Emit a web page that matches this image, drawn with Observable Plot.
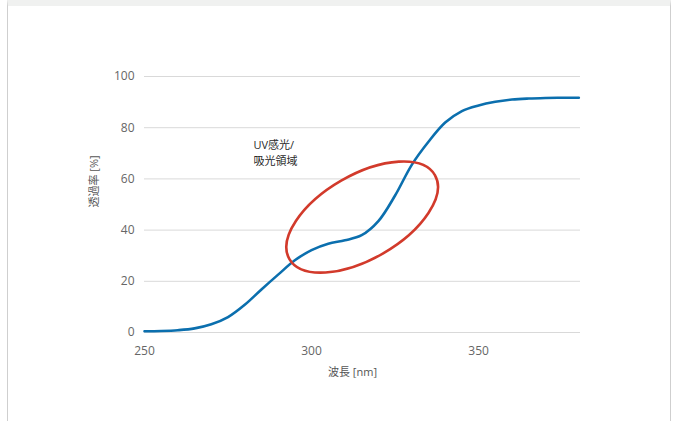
<!DOCTYPE html>
<html>
<head>
<meta charset="utf-8">
<script src="https://cdn.jsdelivr.net/npm/d3@7"></script>
<script src="https://cdn.jsdelivr.net/npm/@observablehq/plot@0.6"></script>
<style>
  html, body { margin: 0; padding: 0; background: #ffffff; }
  body { width: 677px; height: 421px; position: relative; overflow: hidden; font-family: "Open Sans", "Noto Sans CJK JP", sans-serif; }
  #card { position: absolute; left: 7px; top: 0; width: 664px; height: 421px; border-top: 6px solid #f0f1f0; border-left: 1px solid #cfcfcf; border-right: 1px solid #cfcfcf; box-sizing: border-box; }
  #chart { position: absolute; left: 0; top: 0; }
</style>
</head>
<body>
<div id="card"></div>
<div id="chart"></div>
<script>
// Data
const wavelength    = [250, 255, 260, 265, 270, 275, 280, 285, 290, 295, 300, 305, 310, 315, 320, 325, 330, 335, 340, 345, 350, 355, 360, 365, 370, 375, 380];
const transmittance = [0.5, 0.6, 0.9, 1.6, 3.2, 6.0, 10.8, 16.8, 22.6, 28.2, 32.2, 34.7, 36.0, 38.0, 43.5, 53.5, 65.5, 74.5, 82.0, 86.5, 88.7, 90.1, 91.0, 91.4, 91.6, 91.7, 91.7];
const xTicks = [250, 300, 350];
const yTicks = [0, 20, 40, 60, 80, 100];
const xLabel = "波長 [nm]";
const yLabel = "透過率 [%]";
const annotationText = ["UV感光/", "吸光領域"];
const annotationAt = [282.6, 70.7];      // data coords of annotation text
const ellipseCenter = [315.3, 44.9];     // data coords of highlighted region centre

const rows = wavelength.map((w, i) => ({w, t: transmittance[i]}));

const chart = Plot.plot({
  width: 677,
  height: 421,
  marginLeft: 144,
  marginRight: 97,
  marginTop: 76,
  marginBottom: 89,
  style: {fontFamily: '"Open Sans", "Noto Sans CJK JP", sans-serif', background: "transparent", overflow: "visible"},
  x: {domain: [250, 380.5]},
  y: {domain: [0, 100]},
  marks: [
    Plot.gridY(yTicks, {stroke: "#d9d9d9", strokeOpacity: 1, strokeWidth: 1}),
    Plot.axisY(yTicks, {tickSize: 0, tickPadding: 10, fontSize: 12, fill: "#666", label: null}),
    Plot.axisX(xTicks, {tickSize: 0, tickPadding: 14, fontSize: 12, fill: "#666", label: null}),
    Plot.text([xLabel], {frameAnchor: "bottom", dy: 43, dx: -10, fontSize: 11, fill: "#555"}),
    Plot.text([yLabel], {frameAnchor: "left", rotate: -90, dx: -50, dy: 3, fontSize: 11, fill: "#555"}),
    Plot.line(rows, {x: "w", y: "t", stroke: "#0b6fae", strokeWidth: 2.6, curve: "catmull-rom"}),
    Plot.text([annotationText.join("\n")], {x: () => annotationAt[0], y: () => annotationAt[1], textAnchor: "start", fontSize: 11, fill: "#2a2a2a", lineHeight: 1.45})
  ]
});

// Highlight ellipse positioned through the plot's own scales
const sx = chart.scale("x"), sy = chart.scale("y");
const cx = sx.apply(ellipseCenter[0]), cy = sy.apply(ellipseCenter[1]);
const ns = "http://www.w3.org/2000/svg";
const ell = document.createElementNS(ns, "ellipse");
ell.setAttribute("cx", 0);
ell.setAttribute("cy", 0);
ell.setAttribute("rx", 84);
ell.setAttribute("ry", 42);
ell.setAttribute("transform", `translate(${cx},${cy}) rotate(-30)`);
ell.setAttribute("fill", "none");
ell.setAttribute("stroke", "#d23a2b");
ell.setAttribute("stroke-width", 2.6);
chart.appendChild(ell);

document.getElementById("chart").appendChild(chart);
</script>
</body>
</html>
